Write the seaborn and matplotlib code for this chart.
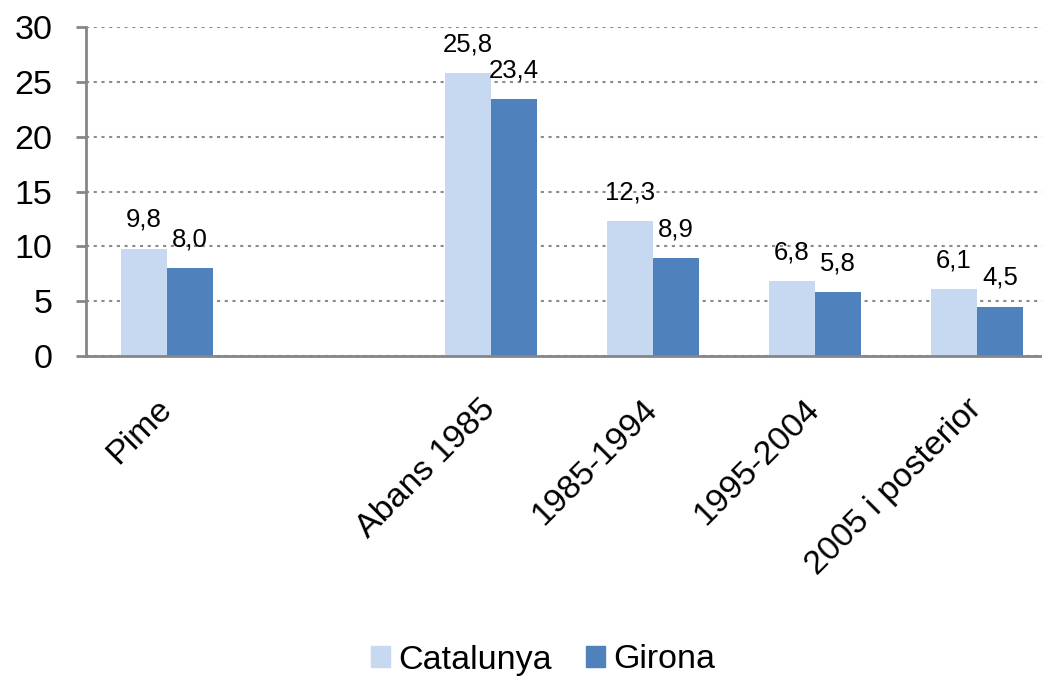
import pandas as pd
import numpy as np
import matplotlib.pyplot as plt
import seaborn as sns

# Data
categories = ["Pime", " ", "Abans 1985", "1985-1994", "1995-2004", "2005 i posterior"]
bar_categories = ["Pime", "Abans 1985", "1985-1994", "1995-2004", "2005 i posterior"]
catalunya = [9.8, 25.8, 12.3, 6.8, 6.1]
girona = [8.0, 23.4, 8.9, 5.8, 4.5]
series_names = ["Catalunya", "Girona"]
colors = ["#C6D9F1", "#4F81BD"]

df = pd.DataFrame({
    "cat": bar_categories * 2,
    "value": catalunya + girona,
    "serie": [series_names[0]] * len(catalunya) + [series_names[1]] * len(girona),
})

sns.set_style("white")
plt.rcParams['font.family'] = ['Liberation Sans', 'DejaVu Sans']
plt.rcParams['text.color'] = 'black'
plt.rcParams['xtick.color'] = 'black'
plt.rcParams['ytick.color'] = 'black'

fig = plt.figure(figsize=(10.42, 6.77), dpi=100)
ax = fig.add_axes([86 / 1042, 1 - 356 / 677, (1058 - 86) / 1042, (356 - 27) / 677])

sns.barplot(data=df, x="cat", y="value", hue="serie", order=categories,
            hue_order=series_names, palette=colors, width=0.57,
            linewidth=0, saturation=1, ax=ax, legend=True)

ax.set_xlim(-0.5, 5.5)
ax.set_ylim(0, 30)
ax.set_yticks(range(0, 31, 5))
ax.set_xlabel("")
ax.set_ylabel("")

# Dotted grid
ax.yaxis.grid(True, linestyle=(0, (1.5, 2.2)), color="#8c8c8c", linewidth=1.5)
ax.set_axisbelow(True)

for side in ["top", "right"]:
    ax.spines[side].set_visible(False)
for side in ["left", "bottom"]:
    ax.spines[side].set_color("#868686")
    ax.spines[side].set_linewidth(2)

ax.tick_params(axis="y", left=True, length=7, width=2, color="#868686",
               labelcolor="black", labelsize=24.5, pad=17)
ax.tick_params(axis="x", bottom=False, length=0, labelcolor="black",
               labelsize=24.5, pad=35)
plt.setp(ax.get_xticklabels(), rotation=45, ha="right", va="center",
         rotation_mode="anchor")

# Value labels
for cont in ax.containers:
    labels = [f"{v:.1f}".replace(".", ",") if not np.isnan(v) else "" for v in cont.datavalues]
    ax.bar_label(cont, labels=labels, padding=12, fontsize=18.5, color="black")

ax.legend_.remove()
handles = [plt.Rectangle((0, 0), 1, 1, color=c) for c in colors]
fig.legend(handles, series_names, loc="center", bbox_to_anchor=(543 / 1042, 17 / 677),
           ncol=2, frameon=False, fontsize=24.5, handlelength=0.55, handleheight=0.55,
           handletextpad=0.25, columnspacing=1.0)

fig.savefig("out.png", dpi=100)
plt.close(fig)
